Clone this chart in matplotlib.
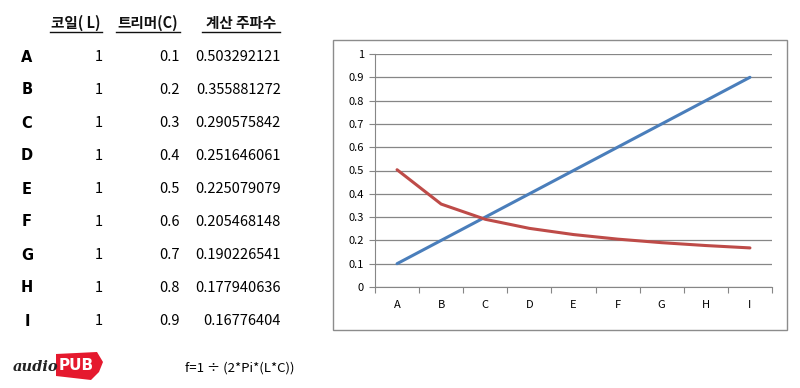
import matplotlib.pyplot as plt
from matplotlib.patches import Rectangle, Polygon

plt.rcParams['font.family'] = ['Noto Sans CJK KR', 'DejaVu Sans']

rows = ['A', 'B', 'C', 'D', 'E', 'F', 'G', 'H', 'I']
coil = [1, 1, 1, 1, 1, 1, 1, 1, 1]
trimmer = [0.1, 0.2, 0.3, 0.4, 0.5, 0.6, 0.7, 0.8, 0.9]
freq = [0.503292121, 0.355881272, 0.290575842, 0.251646061, 0.225079079,
        0.205468148, 0.190226541, 0.177940636, 0.16776404]
freq_text = ['0.503292121', '0.355881272', '0.290575842', '0.251646061', '0.225079079',
             '0.205468148', '0.190226541', '0.177940636', '0.16776404']
headers = ['코일( L)', '트리머(C)', '계산 주파수']

W, H = 800, 388
fig = plt.figure(figsize=(8, 3.88), dpi=100)

def fx(x):
    return x / W

def fy(y):
    return 1 - y / H

# table headers, underlined
hdr_x = [(50, 102), (116, 180), (202, 280)]
for (x0, x1), h in zip(hdr_x, headers):
    fig.text(fx((x0 + x1) / 2), fy(23), h, ha='center', va='center',
             fontsize=10.5, fontweight='bold', color='#111111')
    fig.add_artist(plt.Line2D([fx(x0), fx(x1)], [fy(32), fy(32)], color='#111111', lw=1))

# table rows
for i, r in enumerate(rows):
    y = 57 + i * 33
    fig.text(fx(27), fy(y), r, ha='center', va='center', fontsize=10.5,
             fontweight='bold', family='DejaVu Sans')
    fig.text(fx(103), fy(y), str(coil[i]), ha='right', va='center', fontsize=10.5)
    fig.text(fx(180), fy(y), f'{trimmer[i]:g}', ha='right', va='center', fontsize=10.5)
    fig.text(fx(281), fy(y), freq_text[i], ha='right', va='center', fontsize=10.5)

# chart frame
fig.add_artist(Rectangle((fx(333), fy(330)), fx(787 - 333), (330 - 40) / H,
                         transform=fig.transFigure, fill=False, ec='#8c8c8c', lw=1))

ax = fig.add_axes([fx(375), fy(287), fx(397), 233 / H])
x = list(range(len(rows)))
ax.plot(x, trimmer, color='#4a7ebb', lw=2.2, solid_capstyle='round')
ax.plot(x, freq, color='#be4b48', lw=2.2, solid_capstyle='round')
ax.set_xlim(-0.5, 8.5)
ax.set_ylim(0, 1)
ax.set_yticks([i / 10 for i in range(11)])
ax.set_yticklabels(['0', '0.1', '0.2', '0.3', '0.4', '0.5', '0.6', '0.7', '0.8', '0.9', '1'])
ax.set_xticks([i - 0.5 for i in range(10)])
ax.set_xticklabels([])
ax.set_xticks(x, minor=True)
ax.set_xticklabels(rows, minor=True)
ax.tick_params(axis='x', which='minor', length=0, pad=9, labelsize=8)
ax.tick_params(axis='x', which='major', length=4, direction='out', color='#868686')
ax.tick_params(axis='y', length=4, direction='out', color='#868686', labelsize=8, pad=4)
ax.grid(axis='y', color='#868686', lw=0.9)
ax.set_axisbelow(True)
for s in ['top', 'right']:
    ax.spines[s].set_visible(False)
for s in ['left', 'bottom']:
    ax.spines[s].set_color('#868686')

# logo
fig.add_artist(Polygon([(fx(56), fy(354)), (fx(97), fy(352)), (fx(103), fy(362)),
                        (fx(99), fy(372)), (fx(91), fy(380)), (fx(56), fy(376))],
                       closed=True, transform=fig.transFigure, fc='#e5192e', ec='none'))
fig.text(fx(76), fy(365), 'PUB', ha='center', va='center', fontsize=11,
         fontweight='bold', color='white', family='DejaVu Sans Condensed')
fig.text(fx(36), fy(367), 'audio', ha='center', va='center', fontsize=10.5,
         style='italic', fontweight='bold', color='#222222', family='DejaVu Serif')

fig.text(fx(185), fy(368), 'f=1 ÷ (2*Pi*(L*C))', ha='left', va='center', fontsize=9.5)

fig.savefig('out.png', dpi=100)
